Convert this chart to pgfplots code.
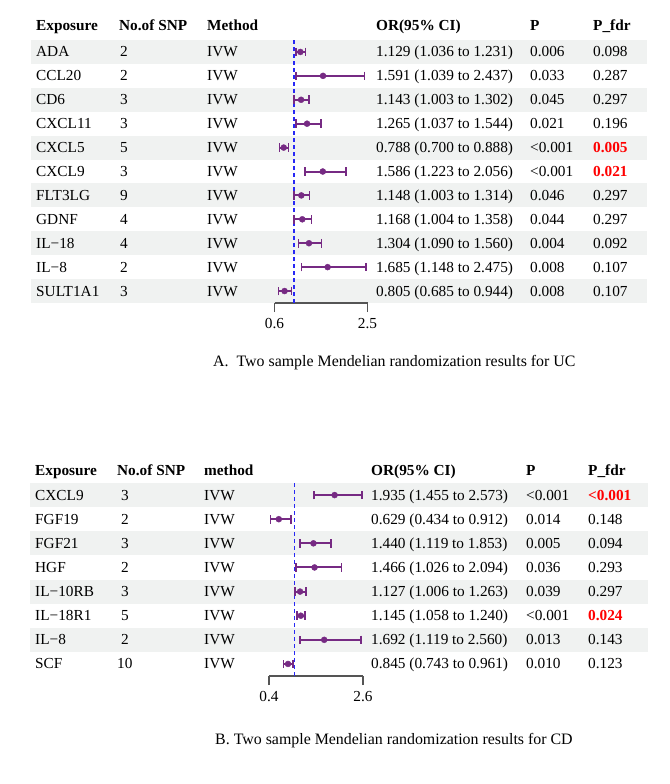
\documentclass[border=0pt]{standalone}
\usepackage{fontspec}
\setmainfont{Liberation Serif}
\usepackage{pgfplots}
\usepackage{pgfplotstable}
\pgfplotsset{compat=1.18}
\definecolor{fp}{RGB}{118,42,131}
\definecolor{rowbg}{RGB}{240,242,241}
\definecolor{dline}{RGB}{40,40,245}
\definecolor{sigred}{RGB}{255,0,0}
\definecolor{axgray}{RGB}{85,85,85}
\newcommand\tf{\fontsize{15.3pt}{18pt}\selectfont}
\newcommand\cf{\fontsize{15.9pt}{18pt}\selectfont}
\newcommand\sig[1]{{\color{sigred}\bfseries #1}}

\pgfplotstableread{
pos or lo hi
-1 1.129 1.036 1.231
-2 1.591 1.039 2.437
-3 1.143 1.003 1.302
-4 1.265 1.037 1.544
-5 0.788 0.700 0.888
-6 1.586 1.223 2.056
-7 1.148 1.003 1.314
-8 1.168 1.004 1.358
-9 1.304 1.090 1.560
-10 1.685 1.148 2.475
-11 0.805 0.685 0.944
}\dataA

\pgfplotstableread{
pos or lo hi
-1 1.935 1.455 2.573
-2 0.629 0.434 0.912
-3 1.440 1.119 1.853
-4 1.466 1.026 2.094
-5 1.127 1.006 1.263
-6 1.145 1.058 1.240
-7 1.692 1.119 2.560
-8 0.845 0.743 0.961
}\dataB

\pgfplotsset{
  forest/.style={
    anchor=south west, scale only axis, clip=false,
    axis x line=bottom, axis y line=none,
    x axis line style={-, draw=axgray, line width=1.1pt},
    tick align=outside, major tick length=9pt,
    x tick style={draw=axgray, line width=1.1pt},
    xticklabel style={font=\tf, inner sep=0pt, yshift=-6pt},
    ytick=\empty,
  },
  refline/.style={draw=dline, line width=1.5pt, dash pattern=on 4pt off 3pt, mark=none},
  fpbars/.style={fp, only marks, mark=*, mark size=3pt,
    error bars/x dir=both, error bars/x explicit,
    error bars/error bar style={line width=2pt, draw=fp, solid},
    error bars/error mark options={draw=fp, line width=1.6pt, mark size=4.3pt, rotate=90}},
}

\begin{document}
\begin{tikzpicture}[x=1pt,y=1pt]
\path (0,0) rectangle (669,-784);

% ---------------- Panel A ----------------
\foreach \i in {1,3,5,7,9,11}{
  \fill[rowbg] (31,{-(40+(\i-1)*23.91)}) rectangle (647,{-(40+\i*23.91)});
}
\begin{axis}[forest, at={(274.5pt,-303pt)}, width=93pt, height=263pt,
  xmin=0.6, xmax=2.5, ymin=-11.5, ymax=-0.5,
  xtick={0.6,2.5}, xticklabels={0.6,2.5}]
  \addplot[refline] coordinates {(1,-0.5) (1,-11.5)};
  \addplot[fpbars]
    table[x=or, y=pos, x error plus expr=\thisrow{hi}-\thisrow{or}, x error minus expr=\thisrow{or}-\thisrow{lo}] {\dataA};
\end{axis}
\begin{scope}[every node/.style={anchor=base west, inner sep=0pt, font=\tf\bfseries}]
  \node at (36,-31) {Exposure};
  \node at (119,-31) {No.of SNP};
  \node at (207,-31) {Method};
  \node at (376,-31) {OR(95\% CI)};
  \node at (530,-31) {P};
  \node at (593,-31) {P\_fdr};
\end{scope}
\foreach \i/\e/\n/\o/\p/\f in {
  1/ADA/2/1.129 (1.036 to 1.231)/0.006/0.098,
  2/CCL20/2/1.591 (1.039 to 2.437)/0.033/0.287,
  3/CD6/3/1.143 (1.003 to 1.302)/0.045/0.297,
  4/CXCL11/3/1.265 (1.037 to 1.544)/0.021/0.196,
  5/CXCL5/5/0.788 (0.700 to 0.888)/<0.001/\sig{0.005},
  6/CXCL9/3/1.586 (1.223 to 2.056)/<0.001/\sig{0.021},
  7/FLT3LG/9/1.148 (1.003 to 1.314)/0.046/0.297,
  8/GDNF/4/1.168 (1.004 to 1.358)/0.044/0.297,
  9/IL−18/4/1.304 (1.090 to 1.560)/0.004/0.092,
  10/IL−8/2/1.685 (1.148 to 2.475)/0.008/0.107,
  11/SULT1A1/3/0.805 (0.685 to 0.944)/0.008/0.107}{
  \begin{scope}[every node/.style={anchor=base west, inner sep=0pt, font=\tf}]
  \pgfmathsetmacro\yy{-(45+(\i-0.5)*23.91)}
  \node at (36,\yy) {\e};
  \node at (120,\yy) {\n};
  \node at (207,\yy) {IVW};
  \node at (376,\yy) {\o};
  \node at (530,\yy) {\p};
  \node at (593,\yy) {\f};
  \end{scope}
}
\node[anchor=base west, inner sep=0pt, font=\cf] at (213,-366) {A.\ \ Two sample Mendelian randomization results for UC};

% ---------------- Panel B ----------------
\foreach \i in {1,3,5,7}{
  \fill[rowbg] (30,{-(483+(\i-1)*24.125)}) rectangle (648,{-(483+\i*24.125)});
}
\begin{axis}[forest, at={(269pt,-676pt)}, width=94pt, height=193pt,
  xmin=0.4, xmax=2.6, ymin=-8.5, ymax=-0.5,
  xtick={0.4,2.6}, xticklabels={0.4,2.6}]
  \addplot[refline] coordinates {(1,-0.5) (1,-8.5)};
  \addplot[fpbars]
    table[x=or, y=pos, x error plus expr=\thisrow{hi}-\thisrow{or}, x error minus expr=\thisrow{or}-\thisrow{lo}] {\dataB};
\end{axis}
\begin{scope}[every node/.style={anchor=base west, inner sep=0pt, font=\tf\bfseries}]
  \node at (35,-475) {Exposure};
  \node at (117,-475) {No.of SNP};
  \node at (204,-475) {method};
  \node at (371,-475) {OR(95\% CI)};
  \node at (526,-475) {P};
  \node at (588,-475) {P\_fdr};
\end{scope}
\foreach \i/\e/\n/\o/\p/\f in {
  1/CXCL9/\ 3/1.935 (1.455 to 2.573)/<0.001/\sig{<0.001},
  2/FGF19/\ 2/0.629 (0.434 to 0.912)/0.014/0.148,
  3/FGF21/\ 3/1.440 (1.119 to 1.853)/0.005/0.094,
  4/HGF/\ 2/1.466 (1.026 to 2.094)/0.036/0.293,
  5/IL−10RB/\ 3/1.127 (1.006 to 1.263)/0.039/0.297,
  6/IL−18R1/\ 5/1.145 (1.058 to 1.240)/<0.001/\sig{0.024},
  7/IL−8/\ 2/1.692 (1.119 to 2.560)/0.013/0.143,
  8/SCF/10/0.845 (0.743 to 0.961)/0.010/0.123}{
  \begin{scope}[every node/.style={anchor=base west, inner sep=0pt, font=\tf}]
  \pgfmathsetmacro\yy{-(488+(\i-0.5)*24.125)}
  \node at (35,\yy) {\e};
  \node at (117,\yy) {\n};
  \node at (204,\yy) {IVW};
  \node at (371,\yy) {\o};
  \node at (526,\yy) {\p};
  \node at (588,\yy) {\f};
  \end{scope}
}
\node[anchor=base west, inner sep=0pt, font=\cf] at (215,-744) {B. Two sample Mendelian randomization results for CD};
\end{tikzpicture}
\end{document}
